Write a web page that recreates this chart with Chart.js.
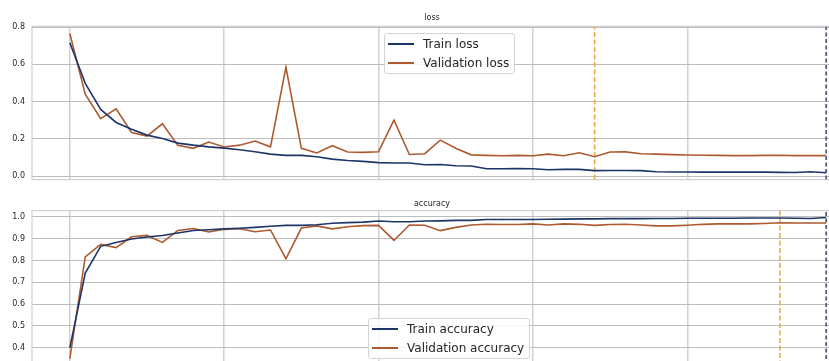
<!DOCTYPE html>
<html lang="en">
<head>
    <meta charset="UTF-8">
    <title>loss / accuracy</title>
    <script src="https://cdn.jsdelivr.net/npm/chart.js"></script>
    <style>
        body { margin: 0; background: #fff; overflow: hidden; width: 829px; height: 361px; position: relative; font-family: "DejaVu Sans", sans-serif; }
        canvas { position: absolute; left: 0; }
        #lossChart { top: 0; }
        #accChart { top: 185px; }
        .legend {
            position: absolute;
            background: rgba(255,255,255,0.85);
            border: 1px solid #d4d4d4;
            border-radius: 3px;
            padding: 1px 5px 1px 3px;
            font-size: 12px;
            color: #262626;
        }
        .legend .row { display: flex; align-items: center; height: 18.5px; white-space: nowrap; }
        .legend .swatch { width: 26px; height: 2px; margin-right: 9px; }
    </style>
</head>
<body>
    <canvas id="lossChart" width="870" height="185"></canvas>
    <canvas id="accChart" width="870" height="185"></canvas>
    <div class="legend" id="lossLegend" style="left:384px; top:33px;"></div>
    <div class="legend" id="accLegend" style="left:368px; top:318px;"></div>

    <script>
        const trainLoss = [0.716, 0.498, 0.358, 0.288, 0.252, 0.220, 0.202, 0.177, 0.166, 0.157,
                           0.150, 0.141, 0.131, 0.118, 0.111, 0.111, 0.104, 0.091, 0.084, 0.079,
                           0.072, 0.070, 0.070, 0.061, 0.062, 0.055, 0.054, 0.039, 0.039, 0.041,
                           0.039, 0.034, 0.036, 0.036, 0.029, 0.030, 0.030, 0.029, 0.023, 0.022,
                           0.022, 0.021, 0.021, 0.021, 0.021, 0.021, 0.020, 0.019, 0.023, 0.018];
        const valLoss = [0.766, 0.440, 0.308, 0.361, 0.234, 0.215, 0.281, 0.165, 0.149, 0.183,
                         0.156, 0.166, 0.188, 0.157, 0.584, 0.149, 0.124, 0.163, 0.129, 0.127,
                         0.131, 0.300, 0.116, 0.120, 0.193, 0.149, 0.114, 0.111, 0.109, 0.111,
                         0.109, 0.118, 0.109, 0.125, 0.104, 0.129, 0.130, 0.120, 0.118, 0.115,
                         0.113, 0.112, 0.111, 0.110, 0.110, 0.111, 0.112, 0.110, 0.110, 0.110];
        const trainAcc = [0.399, 0.742, 0.865, 0.883, 0.899, 0.908, 0.915, 0.926, 0.938, 0.941,
                          0.945, 0.948, 0.952, 0.957, 0.961, 0.961, 0.964, 0.971, 0.974, 0.976,
                          0.981, 0.978, 0.978, 0.981, 0.982, 0.984, 0.984, 0.988, 0.988, 0.988,
                          0.988, 0.989, 0.990, 0.991, 0.991, 0.992, 0.992, 0.992, 0.993, 0.993,
                          0.994, 0.994, 0.994, 0.994, 0.995, 0.995, 0.995, 0.994, 0.993, 0.997];
        const valAcc = [0.350, 0.816, 0.874, 0.859, 0.909, 0.915, 0.883, 0.938, 0.947, 0.931,
                        0.943, 0.946, 0.932, 0.940, 0.808, 0.949, 0.959, 0.945, 0.955, 0.960,
                        0.961, 0.892, 0.963, 0.962, 0.937, 0.952, 0.963, 0.966, 0.965, 0.965,
                        0.968, 0.963, 0.968, 0.966, 0.961, 0.965, 0.966, 0.963, 0.959, 0.959,
                        0.962, 0.966, 0.968, 0.968, 0.968, 0.970, 0.973, 0.972, 0.972, 0.972];

        // vertical markers: best validation epoch and last epoch
        const bestLossEpoch = 34;
        const bestAccEpoch = 46;
        const lastEpoch = 49;

        const TRAIN_COLOR = '#1d3567';
        const VAL_COLOR = '#ad5a30';
        const BEST_COLOR = '#e7a63a';
        const LAST_COLOR = '#4f5f86';

        const epochs = trainLoss.map((_, i) => i);
        const toPoints = arr => arr.map((v, i) => ({ x: epochs[i], y: v }));
        const vline = (x, lo, hi) => [{ x: x, y: lo }, { x: x, y: hi }];

        // draws the frame (spines) round the plot area
        const framePlugin = {
            id: 'frame',
            beforeDatasetsDraw(chart) {
                const a = chart.chartArea, ctx = chart.ctx;
                ctx.save();
                ctx.strokeStyle = '#cfcfcf';
                ctx.lineWidth = 1.2;
                ctx.strokeRect(a.left, a.top, a.right - a.left, a.bottom - a.top);
                ctx.restore();
            }
        };

        function makeChart(id, title, train, val, labels, yMin, yMax, step, bestEpoch, titlePad, padBottom) {
            const ctx = document.getElementById(id).getContext('2d');
            return new Chart(ctx, {
                type: 'line',
                data: {
                    datasets: [
                        { label: labels[0], data: toPoints(train), borderColor: TRAIN_COLOR, borderWidth: 1.6, pointRadius: 0, tension: 0 },
                        { label: labels[1], data: toPoints(val), borderColor: VAL_COLOR, borderWidth: 1.6, pointRadius: 0, tension: 0 },
                        { data: vline(bestEpoch, yMin, yMax), borderColor: BEST_COLOR, borderWidth: 1.5, borderDash: [5, 2.5], pointRadius: 0 },
                        { data: vline(lastEpoch, yMin, yMax), borderColor: LAST_COLOR, borderWidth: 1.8, borderDash: [4, 2.5], pointRadius: 0 }
                    ]
                },
                options: {
                    responsive: false,
                    animation: false,
                    layout: { padding: { left: 0, right: 6, top: 0, bottom: padBottom } },
                    plugins: {
                        legend: { display: false },
                        tooltip: { enabled: false },
                        title: {
                            display: true,
                            text: title,
                            color: '#262626',
                            font: { family: 'DejaVu Sans', size: 8, weight: 'normal' },
                            padding: titlePad
                        }
                    },
                    scales: {
                        x: {
                            type: 'linear',
                            min: -2.45,
                            max: 51.45,
                            afterFit(scale) { scale.height = 0; },
                            ticks: { display: false, stepSize: 10, includeBounds: false },
                            grid: { color: '#d2d2d2', lineWidth: 1.5, drawTicks: false },
                            border: { display: false }
                        },
                        y: {
                            min: yMin,
                            max: yMax,
                            afterFit(scale) {
                                scale.width = 32;
                                scale.paddingTop = 0;
                                scale.paddingBottom = 0;
                            },
                            ticks: {
                                stepSize: step,
                                includeBounds: false,
                                padding: 7,
                                color: '#262626',
                                font: { family: 'DejaVu Sans', size: 8 },
                                callback: v => v.toFixed(1)
                            },
                            grid: { color: '#bdbdbd', lineWidth: 1, drawTicks: false },
                            border: { display: false }
                        }
                    }
                },
                plugins: [framePlugin]
            });
        }

        function buildLegend(chart, elId) {
            const el = document.getElementById(elId);
            chart.data.datasets.filter(d => d.label).forEach(d => {
                const row = document.createElement('div');
                row.className = 'row';
                const sw = document.createElement('span');
                sw.className = 'swatch';
                sw.style.background = d.borderColor;
                const txt = document.createElement('span');
                txt.textContent = d.label;
                row.appendChild(sw);
                row.appendChild(txt);
                el.appendChild(row);
            });
        }

        const lossChart = makeChart('lossChart', 'loss', trainLoss, valLoss,
            ['Train loss', 'Validation loss'], -0.019, 0.804, 0.2, bestLossEpoch,
            { top: 13.2, bottom: 3.6 }, 5.4);
        const accChart = makeChart('accChart', 'accuracy', trainAcc, valAcc,
            ['Train accuracy', 'Validation accuracy'], 0.318, 1.029, 0.1, bestAccEpoch,
            { top: 14.2, bottom: 1.8 }, 4.5);

        buildLegend(lossChart, 'lossLegend');
        buildLegend(accChart, 'accLegend');
    </script>
</body>
</html>
